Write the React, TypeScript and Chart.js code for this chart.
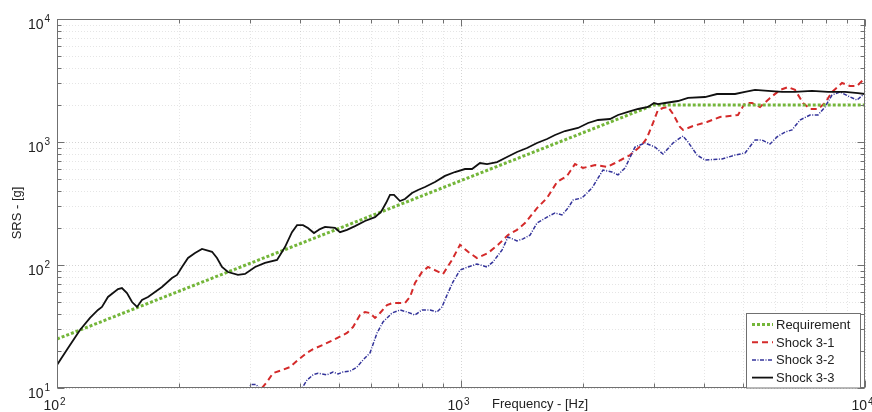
import React, { useEffect, useRef } from "react";
import { Chart, registerables } from "chart.js";

Chart.register(...registerables);

// ---------- data (frequency [Hz], SRS [g]) ----------
const requirement: [number, number][] = [
  [100, 25], [3000, 2000], [10000, 2000],
];

const shock31: [number, number][] = [
  [321.7, 10], [331, 11.2], [342.4, 13.2], [360.6, 14.0], [377.4, 14.8], [394.9, 16.9], [415.8, 19.3],
  [430.3, 20.7], [455.3, 22.4], [482.1, 24.5], [522.2, 28.0], [540.4, 31.3], [562.3, 39.2], [578.6, 41.5],
  [595.4, 40.7], [612.5, 37.1], [630.3, 40.7], [655.9, 47.3], [678.7, 49.1], [726.7, 49.1], [747.8, 55.0],
  [769.4, 71.4], [800.8, 87.7], [828.6, 96.4], [871.9, 89.3], [902.6, 84.5], [950, 110], [994.3, 146],
  [1041, 128], [1095, 114], [1166, 125], [1235, 146], [1307, 175], [1376, 193], [1440, 219], [1542, 290],
  [1633, 351], [1729, 473], [1830, 530], [1915, 662], [2004, 615], [2147, 650], [2298, 627], [2406, 675],
  [2620, 783], [2805, 946], [2886, 1078], [2987, 1427], [3072, 1820], [3162, 1888], [3254, 1926],
  [3348, 1690], [3484, 1324], [3544, 1253], [3752, 1349], [4064, 1455], [4377, 1596], [4848, 1658],
  [5047, 2075], [5253, 2075], [5497, 1926], [5821, 2280], [6162, 2651], [6450, 2799], [6711, 2651],
  [7024, 2075], [7311, 1855], [7649, 1855], [7962, 2075], [8285, 2551], [8772, 3020], [9182, 2851],
  [9555, 2851], [10000, 3311],
];

const shock32: [number, number][] = [
  [295, 9.5], [303, 10.7], [311, 10.7], [318, 9.8], [340, 8.3], [390, 8.3], [404.1, 10], [415.8, 11.6],
  [430.3, 12.8], [442.6, 13.2], [465.9, 12.8], [482.1, 13.5], [496.1, 13.0], [510.5, 13.5], [531.3, 13.7],
  [552.9, 14.8], [572.1, 16.9], [595.4, 19.3], [619.6, 28.0], [641.1, 34.4], [674.9, 40.7], [706.3, 43.1],
  [735, 41.5], [769.4, 39.2], [800.8, 43.1], [838.1, 43.1], [871.9, 41.5], [897.5, 45.6], [923.4, 57.0],
  [955.4, 72.8], [994.3, 91.0], [1041, 96.4], [1095, 102], [1160, 96.4], [1200, 106], [1263, 132],
  [1307, 169], [1376, 157], [1424, 163], [1482, 175], [1542, 219], [1633, 245], [1709, 265], [1778, 255],
  [1840, 290], [1893, 337], [1993, 351], [2110, 423], [2246, 592], [2364, 570], [2447, 540], [2547, 615],
  [2696, 910], [2854, 982], [3021, 910], [3162, 798], [3348, 982], [3544, 1119], [3647, 1000], [3839, 783],
  [4018, 714], [4426, 728], [4768, 783], [5047, 814], [5343, 1038], [5559, 1038], [5821, 964], [6057, 1099],
  [6339, 1205], [6597, 1253], [6905, 1510], [7311, 1658], [7649, 1658], [7962, 1926], [8285, 2410],
  [8671, 2551], [9077, 2366], [9555, 2193], [10000, 2500],
];

const shock33: [number, number][] = [
  [100, 15.4], [106.5, 21.1], [114, 29.6], [120.7, 37.1], [126.3, 43.1], [129.2, 45.6], [133.7, 55.0],
  [141.6, 63.8], [144.8, 65.0], [149, 59.2], [153.4, 50.0], [157.8, 45.6], [162.3, 51.9], [168, 55.0],
  [181.9, 66.2], [192.6, 78.4], [198.2, 83.0], [203.9, 96.4], [211, 114], [219.6, 125], [228.5, 135],
  [242, 128], [248.9, 114], [256.1, 96.4], [265, 87.7], [280.5, 83.0], [292, 84.5], [309.2, 96.4],
  [327.2, 104], [350.5, 110], [366.7, 140], [381.6, 185], [392.8, 211], [406.4, 211], [418, 200],
  [432.6, 182], [447.7, 196], [460.7, 204], [487.7, 200], [501.8, 185], [522.2, 193], [546.6, 207],
  [578.6, 228], [612.5, 245], [633.9, 270], [652.2, 319], [667.2, 371], [682.6, 371], [706.3, 331],
  [726.7, 344], [756.3, 385], [782.6, 407], [814.4, 431], [862.2, 473], [912.9, 530], [966.3, 570],
  [1023, 603], [1065, 603], [1114, 675], [1160, 662], [1228, 687], [1300, 755], [1376, 830], [1457, 894],
  [1542, 982], [1633, 1058], [1709, 1140], [1809, 1228], [1948, 1300], [2063, 1427], [2184, 1510],
  [2338, 1538], [2447, 1658], [2591, 1754], [2743, 1855], [2904, 1926], [3004, 2075], [3072, 2036],
  [3199, 2075], [3444, 2154], [3647, 2280], [4018, 2322], [4302, 2456], [4768, 2456], [5047, 2551],
  [5343, 2651], [5754, 2601], [6232, 2551], [6711, 2551], [7394, 2601], [8100, 2551], [8925, 2551],
  [9610, 2500], [10000, 2456],
];

const seriesNames = ["Requirement", "Shock 3-1", "Shock 3-2", "Shock 3-3"];
const xDecades = [100, 1000, 10000];
const xDecadeExponents = ["2", "3", "4"];
const yDecades = [10, 100, 1000, 10000];
const yDecadeExponents = ["1", "2", "3", "4"];
const xTitle = "Frequency - [Hz]";
const yTitle = "SRS - [g]";

// ---------- styles ----------
const styles = [
  { color: "#74b63a", width: 3, dash: [3, 2] },
  { color: "#d42a2a", width: 2, dash: [6, 4] },
  { color: "#33339a", width: 1.5, dash: [4, 1.5, 1, 1.5] },
  { color: "#111111", width: 1.8, dash: [] as number[] },
];
const FONT = '"Liberation Sans", Arial, sans-serif';

function minorValues(decades: number[]): { v: number; major: boolean }[] {
  const out: { v: number; major: boolean }[] = [];
  for (let i = 0; i < decades.length - 1; i++) {
    for (let k = 1; k <= 9; k++) out.push({ v: decades[i] * k, major: k === 1 });
  }
  out.push({ v: decades[decades.length - 1], major: true });
  return out;
}

const axesPlugin = {
  id: "matlabAxes",
  beforeDatasetsDraw(chart: any) {
    const { ctx, chartArea: a, scales } = chart;
    const xs = scales.x, ys = scales.y;
    ctx.save();
    ctx.lineWidth = 1;
    ctx.setLineDash([1, 2]);
    for (const t of minorValues(xDecades)) {
      const px = Math.round(xs.getPixelForValue(t.v)) + 0.5;
      ctx.strokeStyle = t.major ? "rgba(0,0,0,0.17)" : "rgba(0,0,0,0.10)";
      ctx.beginPath();
      ctx.moveTo(px, a.top);
      ctx.lineTo(px, a.bottom);
      ctx.stroke();
    }
    for (const t of minorValues(yDecades)) {
      const py = Math.round(ys.getPixelForValue(t.v)) + 0.5;
      ctx.strokeStyle = t.major ? "rgba(0,0,0,0.17)" : "rgba(0,0,0,0.10)";
      ctx.beginPath();
      ctx.moveTo(a.left, py);
      ctx.lineTo(a.right, py);
      ctx.stroke();
    }
    ctx.restore();
  },
  afterDatasetsDraw(chart: any) {
    const { ctx, chartArea: a, scales } = chart;
    const xs = scales.x, ys = scales.y;
    ctx.save();
    ctx.setLineDash([]);
    ctx.strokeStyle = "#707070";
    ctx.lineWidth = 1;
    const L = Math.round(a.left) + 0.5, R = Math.round(a.right) - 0.5;
    const T = Math.round(a.top) + 0.5, B = Math.round(a.bottom) - 0.5;
    ctx.strokeRect(L, T, R - L, B - T);

    // inside ticks
    ctx.beginPath();
    for (const t of minorValues(xDecades)) {
      const px = Math.round(xs.getPixelForValue(t.v)) + 0.5;
      const len = t.major ? 7 : 4;
      ctx.moveTo(px, B); ctx.lineTo(px, B - len);
      ctx.moveTo(px, T); ctx.lineTo(px, T + len);
    }
    for (const t of minorValues(yDecades)) {
      const py = Math.round(ys.getPixelForValue(t.v)) + 0.5;
      const len = t.major ? 7 : 4;
      ctx.moveTo(L, py); ctx.lineTo(L + len, py);
      ctx.moveTo(R, py); ctx.lineTo(R - len, py);
    }
    ctx.stroke();

    // tick labels
    ctx.fillStyle = "#222";
    xDecades.forEach((v, i) => {
      const px = xs.getPixelForValue(v);
      ctx.font = `14px ${FONT}`;
      ctx.textAlign = "right";
      ctx.textBaseline = "alphabetic";
      ctx.fillText("10", px + 2, 410);
      ctx.font = `10px ${FONT}`;
      ctx.textAlign = "left";
      ctx.fillText(xDecadeExponents[i], px + 3, 405);
    });
    yDecades.forEach((v, i) => {
      const py = ys.getPixelForValue(v);
      ctx.font = `14px ${FONT}`;
      ctx.textAlign = "right";
      ctx.textBaseline = "alphabetic";
      ctx.fillText("10", 43.5, py + 9.5);
      ctx.font = `10px ${FONT}`;
      ctx.textAlign = "left";
      ctx.fillText(yDecadeExponents[i], 44.5, py + 3);
    });

    // axis titles
    ctx.font = `13px ${FONT}`;
    ctx.textAlign = "left";
    ctx.textBaseline = "alphabetic";
    ctx.fillText(xTitle, 492, 408);
    ctx.save();
    ctx.translate(21, 213);
    ctx.rotate(-Math.PI / 2);
    ctx.textAlign = "center";
    ctx.fillText(yTitle, 0, 0);
    ctx.restore();

    // legend
    const lx = 746, ly = 313, lw = 114, lh = 75;
    ctx.fillStyle = "#ffffff";
    ctx.fillRect(lx, ly, lw, lh);
    ctx.strokeStyle = "#707070";
    ctx.lineWidth = 1;
    ctx.strokeRect(lx + 0.5, ly + 0.5, lw, lh - 0.5);
    seriesNames.forEach((name, i) => {
      const y = 324.5 + i * 17.7;
      const s = styles[i];
      ctx.strokeStyle = s.color;
      ctx.lineWidth = s.width;
      ctx.setLineDash(s.dash);
      ctx.beginPath();
      ctx.moveTo(752, y);
      ctx.lineTo(773, y);
      ctx.stroke();
      ctx.setLineDash([]);
      ctx.fillStyle = "#222";
      ctx.font = `13px ${FONT}`;
      ctx.textAlign = "left";
      ctx.textBaseline = "alphabetic";
      ctx.fillText(name, 776, y + 4.5);
    });
    ctx.restore();
  },
};

export default function App() {
  const ref = useRef<HTMLCanvasElement | null>(null);
  useEffect(() => {
    if (!ref.current) return;
    const all = [requirement, shock31, shock32, shock33];
    const datasets = all.map((arr, i) => ({
      label: seriesNames[i],
      data: arr.map(([x, y]) => ({ x, y })),
      borderColor: styles[i].color,
      borderWidth: styles[i].width,
      borderDash: styles[i].dash,
      pointRadius: 0,
      tension: 0,
      fill: false,
      clip: 0,
      order: i === 3 ? 0 : i === 0 ? 1 : 4 - i,
    }));
    const chart = new Chart(ref.current, {
      type: "line",
      data: { datasets },
      options: {
        animation: false,
        responsive: false,
        devicePixelRatio: 1,
        parsing: true,
        layout: { padding: { top: 19, right: 7, left: 0, bottom: 0 } },
        plugins: { legend: { display: false }, tooltip: { enabled: false } },
        scales: {
          x: {
            type: "logarithmic",
            min: 100,
            max: 10000,
            ticks: { display: false },
            grid: { display: false },
            border: { display: false },
            afterFit: (s: any) => { s.height = 24; },
          },
          y: {
            type: "logarithmic",
            min: 10,
            max: 10000,
            ticks: { display: false },
            grid: { display: false },
            border: { display: false },
            afterFit: (s: any) => { s.width = 57; },
          },
        },
      } as any,
      plugins: [axesPlugin],
    });
    return () => chart.destroy();
  }, []);
  return (
    <div style={{ position: "fixed", left: 0, top: 0, width: 872, height: 412, background: "#fff" }}>
      <canvas ref={ref} width={872} height={412} style={{ display: "block", width: 872, height: 412 }} />
    </div>
  );
}
